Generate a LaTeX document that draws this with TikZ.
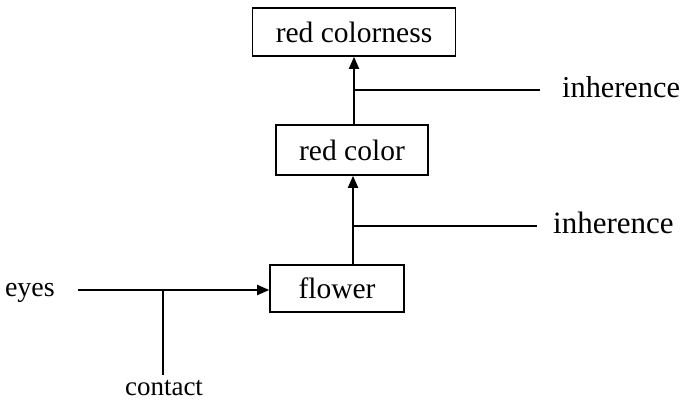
\documentclass[tikz,border=0pt]{standalone}
\usepackage{fontspec}
\setmainfont{Liberation Serif}
\usetikzlibrary{arrows.meta}
\begin{document}
\begin{tikzpicture}[x=1pt,y=-1pt,
  box/.style={draw,line width=1.6pt,minimum height=#1,inner sep=0pt},
  lbl/.style={inner sep=0pt},
  conn/.style={line width=1.9pt},
  arr/.style={conn,-{Triangle[length=12pt,width=10pt]}},
  every node/.style={font=\fontsize{29.5}{34}\selectfont}]
\useasboundingbox (0,0) rectangle (685,401);
\node[box=48pt,minimum width=203pt] (rcn) at (354,32) {red colorness};
\node[box=50pt,minimum width=152pt] (rc) at (352,150) {red color};
\node[box=47pt,minimum width=134pt] (fl) at (337,288.5) {flower};
\node[lbl,anchor=base west,inner xsep=22pt,font=\fontsize{30.3}{36}\selectfont] (inh1) at (540,98) {inherence};
\node[lbl,anchor=base west,inner xsep=16pt,font=\fontsize{31}{36}\selectfont] (inh2) at (537,233) {inherence};
\node[lbl,anchor=base east,inner xsep=23pt,font=\fontsize{28}{32}\selectfont] (eyes) at (78,296) {eyes};
\node[lbl,anchor=base,inner ysep=5pt,font=\fontsize{27}{32}\selectfont] (ct) at (164,395) {contact};
\coordinate (j1) at (354,90);
\coordinate (j2) at (353,226);
\coordinate (j3) at (163,290);
\draw[arr] (rc.north -| rcn.south) -- (rcn.south);
\draw[arr] (fl.north -| j2) -- (rc.south -| j2);
\draw[arr] (eyes.east |- j3) -- (fl.west |- j3);
\draw[conn] (j1) -- (j1 -| inh1.west);
\draw[conn] (j2) -- (j2 -| inh2.west);
\draw[conn] (j3) -- (j3 |- ct.north);
\end{tikzpicture}
\end{document}
